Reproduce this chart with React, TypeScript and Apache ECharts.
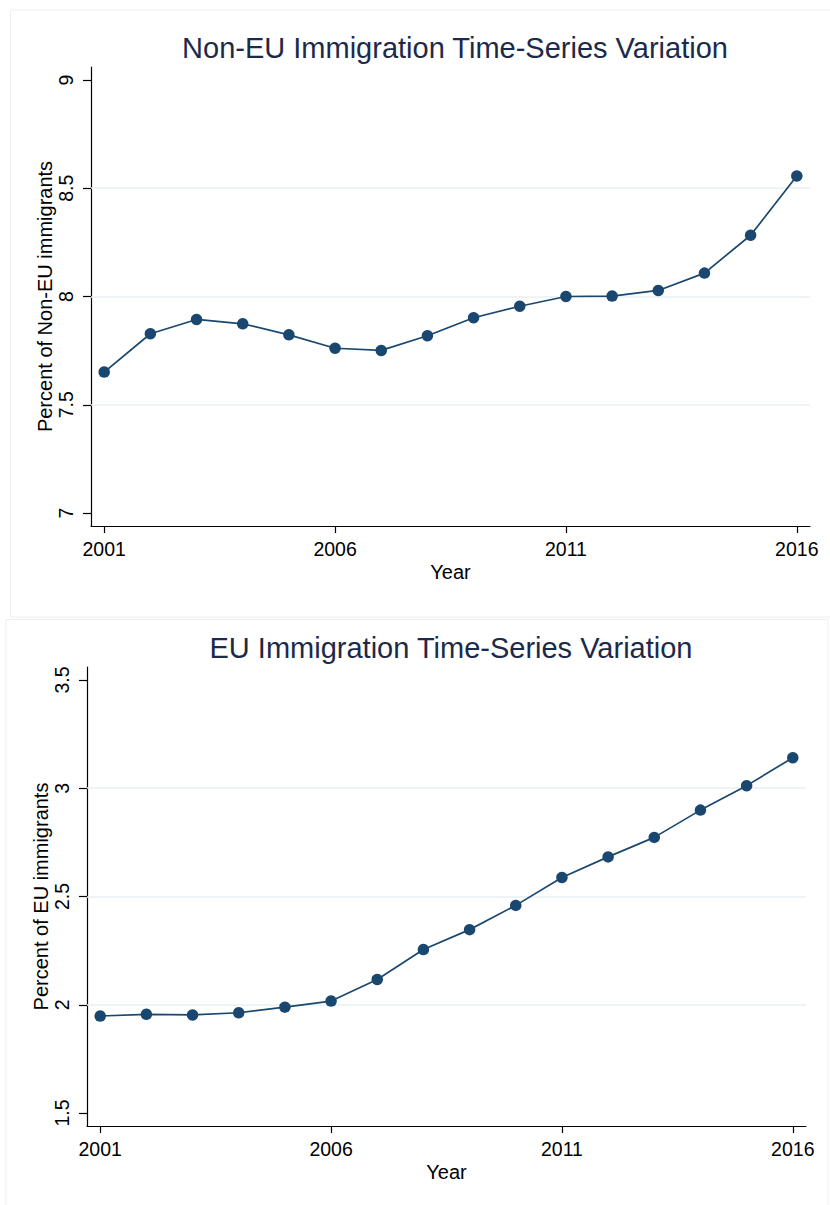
import React, { useEffect, useRef } from "react";
import * as echarts from "echarts";

const years = [2001, 2002, 2003, 2004, 2005, 2006, 2007, 2008, 2009, 2010, 2011, 2012, 2013, 2014, 2015, 2016];
const nonEU = [7.651, 7.828, 7.894, 7.874, 7.823, 7.761, 7.751, 7.819, 7.902, 7.955, 8.0, 8.002, 8.028, 8.108, 8.283, 8.557];
const eu = [1.948, 1.956, 1.953, 1.963, 1.989, 2.017, 2.117, 2.255, 2.347, 2.459, 2.588, 2.683, 2.773, 2.899, 3.012, 3.141];
const xTicks = [2001, 2006, 2011, 2016];
const yTicksTop = [7, 7.5, 8, 8.5, 9];
const yGridTop = [7.5, 8, 8.5];
const yTicksBottom = [1.5, 2, 2.5, 3, 3.5];
const yGridBottom = [2, 2.5, 3];
const titles = ["Non-EU Immigration Time-Series Variation", "EU Immigration Time-Series Variation"];
const yTitles = ["Percent of Non-EU immigrants", "Percent of EU immigrants"];

const FONT = "'Liberation Sans', Arial, sans-serif";
const NAVY = "#1a476f";

export default function App() {
  const ref = useRef<HTMLDivElement>(null);
  useEffect(() => {
    if (!ref.current) return;
    const chart = echarts.init(ref.current, null, { renderer: "svg" });
    const mkX = (gi: number) => ({
      type: "value",
      gridIndex: gi,
      min: 2000.714,
      max: 2016.286,
      name: "Year",
      nameLocation: "middle",
      nameGap: 36,
      nameTextStyle: { fontSize: 20, color: "#000", fontFamily: FONT },
      axisLine: { show: true, onZero: false, lineStyle: { color: "#000", width: 1.2 } },
      axisTick: { show: true, length: 7, customValues: xTicks, lineStyle: { color: "#000", width: 1.2 } },
      axisLabel: { customValues: xTicks, margin: 13, fontSize: 19.5, color: "#000", fontFamily: FONT, formatter: (v: number) => String(v) },
      splitLine: { show: false },
    });
    const mkY = (gi: number, min: number, max: number, ticks: number[]) => ({
      type: "value",
      gridIndex: gi,
      min,
      max,
      name: yTitles[gi],
      nameLocation: "middle",
      nameGap: 36,
      nameMoveOverlap: false,
      nameTextStyle: { fontSize: 20, color: "#000", fontFamily: FONT },
      axisLine: { show: true, onZero: false, lineStyle: { color: "#000", width: 1.2 } },
      axisTick: { show: true, length: 8, customValues: ticks, lineStyle: { color: "#000", width: 1.2 } },
      axisLabel: { customValues: ticks, rotate: 90, margin: 15, fontSize: 19.5, color: "#000", fontFamily: FONT, formatter: (v: number) => String(v) },
      splitLine: { show: false },
    });
    const mkSeries = (gi: number, vals: number[], grid: number[]) => ({
      type: "line",
      xAxisIndex: gi,
      yAxisIndex: gi,
      data: years.map((y, i) => [y, vals[i]]),
      symbol: "circle",
      symbolSize: 11.5,
      z: 3,
      lineStyle: { color: NAVY, width: 1.7 },
      itemStyle: { color: NAVY },
      markLine: {
        silent: true,
        symbol: "none",
        z: 1,
        label: { show: false },
        lineStyle: { color: "#e9eff3", width: 1.5, type: "solid" },
        data: grid.map((g) => ({ yAxis: g })),
      },
    });
    chart.setOption({
      animation: false,
      backgroundColor: "#ffffff",
      title: [
        { text: titles[0], left: 450, top: 28, textAlign: "center", textStyle: { fontSize: 29, fontWeight: "normal", color: "#1c2a4a", fontFamily: FONT } },
        { text: titles[1], left: 446, top: 628, textAlign: "center", textStyle: { fontSize: 29, fontWeight: "normal", color: "#1c2a4a", fontFamily: FONT } },
      ],
      graphic: [
        { type: "rect", shape: { x: 10.5, y: 10, width: 830, height: 607 }, style: { fill: "none", stroke: "#efefef", lineWidth: 1 }, silent: true },
        { type: "rect", shape: { x: 6, y: 619.5, width: 822, height: 620 }, style: { fill: "none", stroke: "#efefef", lineWidth: 1 }, silent: true },
      ],
      grid: [
        { left: 91, top: 67, width: 719, height: 459, containLabel: false },
        { left: 87, top: 667, width: 719, height: 459, containLabel: false },
      ],
      xAxis: [mkX(0), mkX(1)],
      yAxis: [mkY(0, 6.94, 9.06, yTicksTop), mkY(1, 1.44, 3.56, yTicksBottom)],
      series: [mkSeries(0, nonEU, yGridTop), mkSeries(1, eu, yGridBottom)],
    });
    return () => chart.dispose();
  }, []);
  return (
    <div style={{ position: "absolute", left: 0, top: 0, width: 830, height: 1205, background: "#fff" }}>
      <div ref={ref} style={{ width: 830, height: 1205 }} />
    </div>
  );
}
